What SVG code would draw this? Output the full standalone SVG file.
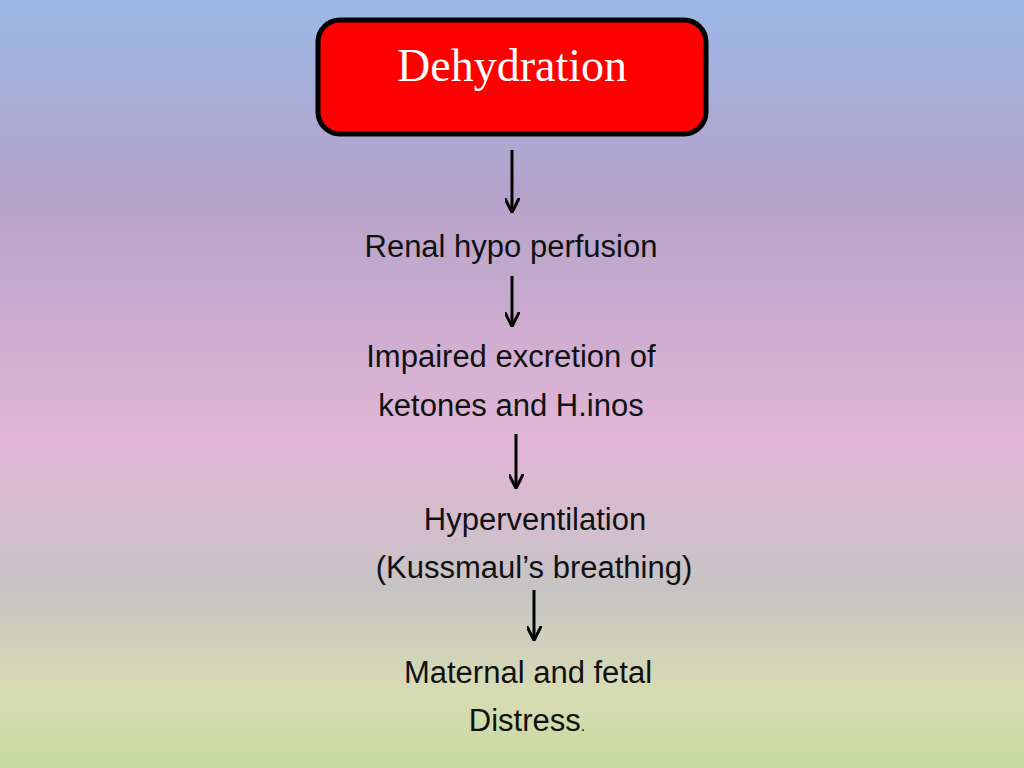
<svg xmlns="http://www.w3.org/2000/svg" width="1024" height="768" viewBox="0 0 1024 768">
<style>
.t{font-family:"Liberation Sans",Arial,sans-serif;font-size:31px;fill:#111;text-anchor:middle}
.a{stroke:#000;stroke-width:3;fill:none}
</style>
<defs>
<linearGradient id="bg" x1="0" y1="0" x2="0" y2="1">
<stop offset="0" stop-color="#9bb8e6"/>
<stop offset="0.25" stop-color="#b4a2c9"/>
<stop offset="0.58" stop-color="#e2b6d6"/>
<stop offset="0.77" stop-color="#c6c4c4"/>
<stop offset="0.9" stop-color="#d8dcb4"/>
<stop offset="1" stop-color="#c6da9c"/>
</linearGradient>
<marker id="ah" viewBox="0 0 10 10" refX="9" refY="5" markerWidth="5" markerHeight="5" orient="auto" markerUnits="strokeWidth">
<path d="M0,0 L10,5 L0,10" fill="none" stroke="#000" stroke-width="2"/>
</marker>
</defs>
<rect width="1024" height="768" fill="url(#bg)"/>
<g id="n1">
<rect x="318" y="20" width="388" height="114" rx="22" fill="#ff0000" stroke="#000" stroke-width="5"/>
<text x="512" y="81" style="font-family:'Liberation Serif',serif;font-size:46px;fill:#fff;text-anchor:middle">Dehydration</text>
</g>
<g id="n2"><text class="t" x="511" y="257">Renal hypo perfusion</text></g>
<g id="n3"><text class="t" x="511" y="367">Impaired excretion of</text><text class="t" x="511" y="416">ketones and H.inos</text></g>
<g id="n4"><text class="t" x="535" y="530">Hyperventilation</text><text class="t" x="534" y="578">(Kussmaul’s breathing)</text></g>
<g id="n5"><text class="t" x="528" y="683">Maternal and fetal</text><text class="t" x="527" y="731">Distress<tspan font-size="16">.</tspan></text></g>
<g id="connectors">
<line class="a" x1="512" y1="150" x2="512" y2="211" marker-end="url(#ah)"/>
<line class="a" x1="512" y1="276" x2="512" y2="325" marker-end="url(#ah)"/>
<line class="a" x1="516" y1="434" x2="516" y2="487" marker-end="url(#ah)"/>
<line class="a" x1="534" y1="590" x2="534" y2="639" marker-end="url(#ah)"/>
</g>
</svg>
